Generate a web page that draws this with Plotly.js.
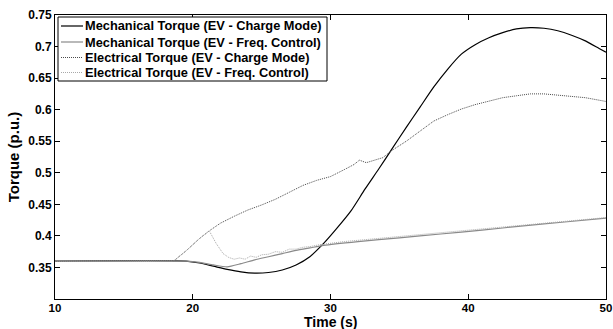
<!DOCTYPE html>
<html>
<head>
<meta charset="utf-8">
<script src="https://cdn.plot.ly/plotly-3.0.1.min.js"></script>
<style>
  html, body { margin: 0; padding: 0; background: #fff; }
  #chart { width: 613px; height: 329px; }
</style>
</head>
<body>
<div id="chart"></div>
<script>
// Time (s) and torque (p.u.) samples for each response
const seriesNames = [
  'Mechanical Torque (EV - Charge Mode)',
  'Mechanical Torque (EV - Freq. Control)',
  'Electrical Torque (EV - Charge Mode)',
  'Electrical Torque (EV - Freq. Control)'
];

const tMechCharge = [10, 19.5, 20.5, 21.5, 22.5, 23.5, 24.5, 25.5, 26.5, 27.5, 28.5, 29.5, 30.5, 31.5, 32.5, 33.5, 34.5, 35.5, 36.5, 37.5, 38.5, 39.5, 40.5, 41.5, 42.5, 43.5, 44.5, 45.5, 46.5, 47.5, 48.5, 49.5, 50];
const yMechCharge = [0.360, 0.360, 0.357, 0.352, 0.347, 0.343, 0.341, 0.342, 0.346, 0.354, 0.367, 0.388, 0.413, 0.440, 0.474, 0.506, 0.539, 0.572, 0.604, 0.636, 0.664, 0.688, 0.703, 0.714, 0.722, 0.728, 0.730, 0.729, 0.725, 0.718, 0.709, 0.697, 0.691];

const tMechFreq = [10, 19.5, 20.5, 21.5, 22.5, 23.5, 24.5, 25.5, 26.5, 27.5, 28.5, 29.5, 32, 35, 38, 41, 44, 47, 50];
const yMechFreq = [0.360, 0.360, 0.358, 0.354, 0.351, 0.356, 0.362, 0.367, 0.372, 0.377, 0.381, 0.385, 0.391, 0.397, 0.403, 0.409, 0.416, 0.422, 0.428];

const tElecCharge = [10, 18.6, 19.5, 20.5, 21.2, 22, 23, 24, 25, 26, 27, 28, 29, 30, 31, 31.7, 32.1, 32.6, 33.2, 33.8, 34.5, 35.5, 36.5, 37.5, 38.5, 39.5, 40.5, 41.5, 42.5, 43.5, 44.5, 45.5, 46.5, 47.5, 48.5, 49.5, 50];
const yElecCharge = [0.360, 0.360, 0.376, 0.396, 0.408, 0.420, 0.431, 0.441, 0.449, 0.458, 0.469, 0.480, 0.488, 0.494, 0.505, 0.513, 0.520, 0.516, 0.520, 0.524, 0.536, 0.550, 0.566, 0.582, 0.592, 0.601, 0.608, 0.614, 0.619, 0.622, 0.625, 0.625, 0.623, 0.621, 0.619, 0.615, 0.613];

const tElecFreq = [10, 18.6, 19.5, 20.5, 21.2, 21.7, 22.2, 22.6, 23.0, 23.4, 23.8, 24.2, 24.6, 25.0, 25.5, 26.0, 26.5, 27.0, 27.5, 28.0, 28.5, 29.2, 31, 34, 37, 40, 43, 46, 50];
const yElecFreq = [0.360, 0.360, 0.376, 0.396, 0.408, 0.388, 0.372, 0.366, 0.363, 0.365, 0.363, 0.368, 0.366, 0.370, 0.371, 0.375, 0.374, 0.379, 0.379, 0.382, 0.383, 0.386, 0.391, 0.397, 0.404, 0.410, 0.416, 0.422, 0.429];

const xTicks = [10, 20, 30, 40, 50];
const yTicks = [0.35, 0.4, 0.45, 0.5, 0.55, 0.6, 0.65, 0.7, 0.75];
const yTickText = ['0.35', '0.4', '0.45', '0.5', '0.55', '0.6', '0.65', '0.7', '0.75'];

const boldFont = { family: 'Liberation Sans, Arial, sans-serif', size: 12, color: '#000', weight: 'bold' };
const xTickFont = Object.assign({}, boldFont, { size: 11.5 });
const keyFont = Object.assign({}, boldFont, { size: 12.8 });
const titleFont = Object.assign({}, boldFont, { size: 15 });
const xTitleFont = Object.assign({}, boldFont, { size: 14 });

// line styles, in key order
const styles = [
  { color: '#000000', width: 1.2, dash: 'solid' },
  { color: '#8a8a8a', width: 1.2, dash: 'solid' },
  { color: '#4a4a4a', width: 1, dash: '1px,1px' },
  { color: '#a8a8a8', width: 1, dash: '1px,1px' }
];

const xs = [tMechCharge, tMechFreq, tElecCharge, tElecFreq];
const ys = [yMechCharge, yMechFreq, yElecCharge, yElecFreq];

const traces = seriesNames.map((name, i) => ({
  x: xs[i], y: ys[i], name: name, mode: 'lines', showlegend: false,
  line: Object.assign({}, styles[i], i < 2 ? { shape: 'spline', smoothing: 0.6 } : {})
}));

// plot area in pixels, used to place the boxed key and the time label in paper units
const W = 613, H = 329;
const M = { l: 55, r: 7, t: 15, b: 30 };
const plotW = W - M.l - M.r, plotH = H - M.t - M.b;
const px = v => (v - M.l) / plotW;
const py = v => 1 - (v - M.t) / plotH;

const shapes = [{
  type: 'rect', xref: 'paper', yref: 'paper',
  x0: px(58), x1: px(327), y0: py(81), y1: py(17),
  line: { color: '#000', width: 1 }, fillcolor: '#fff', layer: 'above'
}];
const annotations = [];
const rowY = [26, 42, 57.5, 72.5];
seriesNames.forEach((name, i) => {
  shapes.push({
    type: 'line', xref: 'paper', yref: 'paper',
    x0: px(61), x1: px(83), y0: py(rowY[i]), y1: py(rowY[i]),
    line: styles[i], layer: 'above'
  });
  annotations.push({
    xref: 'paper', yref: 'paper', x: px(84), y: py(rowY[i]),
    xanchor: 'left', yanchor: 'middle', showarrow: false,
    text: name, font: keyFont, borderpad: 0
  });
});

// x-axis title
annotations.push({
  xref: 'paper', yref: 'paper', x: 0.5, y: py(321.5),
  xanchor: 'center', yanchor: 'middle', showarrow: false,
  text: 'Time (s)', font: xTitleFont, borderpad: 0
});

const axisCommon = {
  showline: true, linecolor: '#000', linewidth: 1, mirror: 'ticks',
  ticks: 'inside', ticklen: 5, tickcolor: '#000', showgrid: false, zeroline: false,
  tickfont: boldFont
};

const layout = {
  width: W, height: H,
  margin: M,
  paper_bgcolor: '#fff', plot_bgcolor: '#fff',
  showlegend: false,
  shapes: shapes,
  annotations: annotations,
  xaxis: Object.assign({}, axisCommon, {
    range: [10, 50], tickvals: xTicks, tickfont: xTickFont, ticklabelstandoff: -2
  }),
  yaxis: Object.assign({}, axisCommon, {
    range: [0.3, 0.75], tickvals: yTicks, ticktext: yTickText,
    title: { text: 'Torque (p.u.)', font: titleFont, standoff: 4 }
  })
};

Plotly.newPlot('chart', traces, layout, { staticPlot: true, displayModeBar: false });
</script>
</body>
</html>
